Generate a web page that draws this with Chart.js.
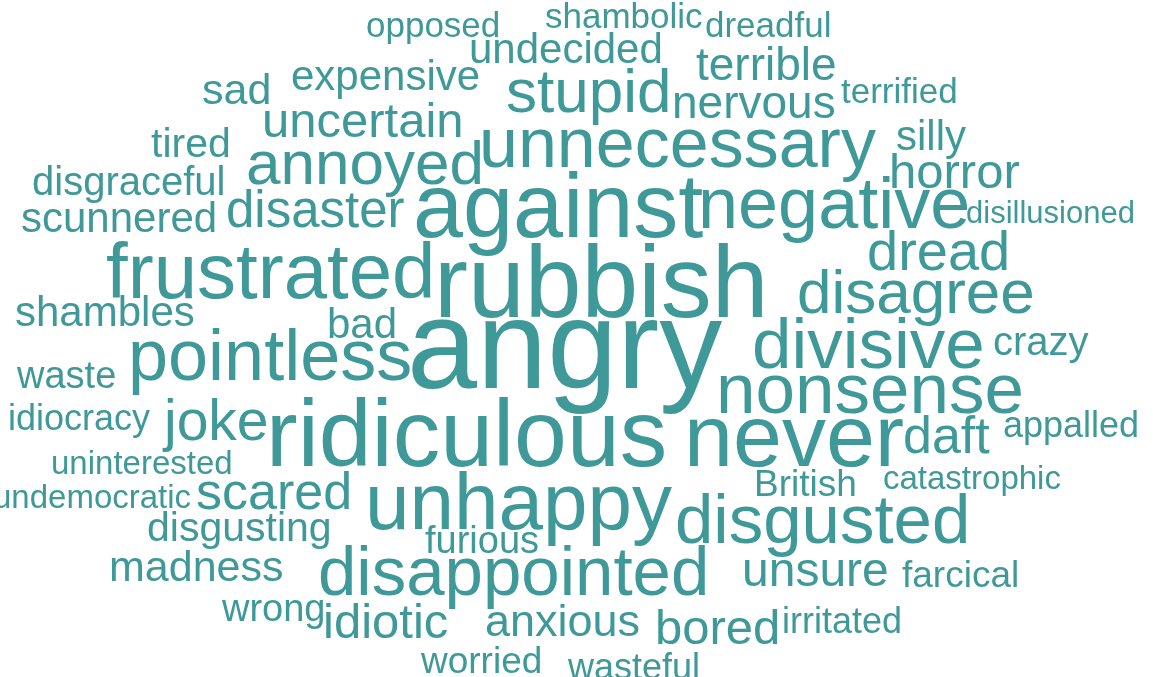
<html>
<head>
    <title>Word cloud</title>
    <script src="https://cdn.jsdelivr.net/npm/chart.js"></script>
    <style>
        body { margin: 0; background: #fff; }
        #wrap { width: 1153px; height: 677px; }
    </style>
</head>
<body>
    <div id="wrap"><canvas id="cloud"></canvas></div>
    <script>
        // words, where each one sits (left edge, baseline) and how big it is
        const words = ['angry', 'rubbish', 'against', 'unnecessary', 'negative', 'frustrated', 'pointless',
            'ridiculous', 'never', 'unhappy', 'disappointed', 'disgusted', 'divisive', 'nonsense', 'disagree',
            'dread', 'crazy', 'appalled', 'daft', 'disillusioned', 'horror', 'silly', 'terrified', 'terrible',
            'nervous', 'stupid', 'undecided', 'shambolic', 'dreadful', 'opposed', 'expensive', 'sad', 'uncertain',
            'tired', 'annoyed', 'disgraceful', 'scunnered', 'disaster', 'shambles', 'bad', 'waste', 'idiocracy',
            'joke', 'uninterested', 'undemocratic', 'scared', 'disgusting', 'madness', 'wrong', 'idiotic',
            'furious', 'anxious', 'bored', 'worried', 'wasteful', 'irritated', 'unsure', 'farcical',
            'catastrophic', 'British'];
        const wordX = [407, 434, 413, 479, 698, 106, 128,
            266, 684, 365, 318, 675, 752, 716, 797,
            867, 993, 1003, 903, 966, 889, 896, 841, 696,
            672, 506, 469, 545, 705, 366, 291, 202, 262,
            151, 246, 32, 21, 226, 15, 327, 17, 8,
            164, 51, -7, 196, 147, 109, 222, 323,
            425, 485, 655, 421, 568, 782, 742, 902,
            883, 754];
        const wordY = [388, 317, 237, 167, 228, 298, 380,
            466, 466, 529, 595, 543, 368, 413, 313,
            270, 355, 437, 453, 223, 188, 150, 103, 80,
            118, 112, 63, 28, 37, 37, 90, 104, 137,
            157, 184, 195, 232, 227, 326, 338, 388, 430,
            440, 474, 508, 509, 541, 581, 621, 638,
            553, 636, 644, 673, 679, 633, 586, 587,
            489, 496];
        const counts = [126, 102, 90, 70, 72, 78, 72,
            95, 88, 80, 69, 69, 71, 71, 62,
            56, 40, 36, 52, 31, 49, 42, 35, 46,
            46, 62, 42, 35, 35, 35, 42, 43, 49,
            41, 62, 40, 42, 51, 42, 42, 38, 36,
            57, 33, 33, 52, 41, 43, 38, 49,
            38, 45, 49, 37, 36, 36, 48, 37,
            33, 37];

        const wordColor = '#409999';

        const wordPlugin = {
            id: 'wordText',
            afterDatasetsDraw(chart) {
                const ctx = chart.ctx;
                const xs = chart.scales.x, ys = chart.scales.y;
                ctx.save();
                ctx.fillStyle = wordColor;
                ctx.textAlign = 'left';
                ctx.textBaseline = 'alphabetic';
                chart.data.datasets[0].data.forEach(function (p) {
                    ctx.font = p.size + 'px "Liberation Sans", Arial, sans-serif';
                    ctx.fillText(p.word, xs.getPixelForValue(p.x), ys.getPixelForValue(p.y));
                });
                ctx.restore();
            }
        };

        const points = words.map(function (w, i) {
            return { x: wordX[i], y: wordY[i], size: counts[i], word: w };
        });

        new Chart(document.getElementById('cloud'), {
            type: 'scatter',
            data: {
                datasets: [{
                    data: points,
                    pointRadius: 0,
                    pointHoverRadius: 0
                }]
            },
            options: {
                responsive: true,
                maintainAspectRatio: false,
                animation: false,
                events: [],
                layout: { padding: 0, autoPadding: false },
                scales: {
                    x: { type: 'linear', min: 0, max: 1153, display: false },
                    y: { type: 'linear', min: 0, max: 677, reverse: true, display: false }
                },
                plugins: {
                    legend: { display: false },
                    tooltip: { enabled: false }
                }
            },
            plugins: [wordPlugin]
        });
    </script>
</body>
</html>
